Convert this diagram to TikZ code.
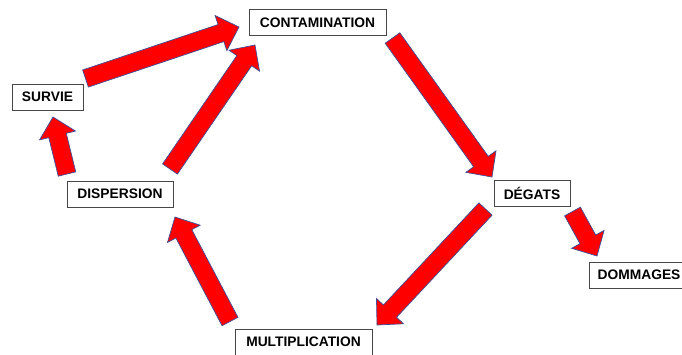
\documentclass[tikz,border=0pt]{standalone}
\usepackage{fontspec}
\setmainfont{Liberation Sans}
\usetikzlibrary{calc}

\definecolor{arrowred}{RGB}{255,0,0}
\definecolor{arrowedge}{RGB}{60,80,150}
\definecolor{boxedge}{RGB}{70,70,70}

% block arrow dimensions
\newcommand{\bashaft}{9pt}
\newcommand{\bawing}{18.5pt}
\newcommand{\bahead}{19pt}

% filled block arrow from tail coordinate #1 to tip coordinate #2
\newcommand{\blockarrow}[2]{%
  \coordinate (ba-h) at ($(#2)!\bahead!(#1)$);
  \draw[blockarrowstyle]
    ($(#1)!\bashaft!90:(#2)$) -- ($(ba-h)!\bashaft!90:(#2)$) --
    ($(ba-h)!\bawing!90:(#2)$) -- (#2) --
    ($(ba-h)!\bawing!-90:(#2)$) -- ($(ba-h)!\bashaft!-90:(#2)$) --
    ($(#1)!\bashaft!-90:(#2)$) -- cycle;
}

\tikzset{
  stage/.style={draw=boxedge, line width=0.9pt, fill=white, minimum height=26pt,
    inner sep=0pt, font=\fontsize{13.8}{16}\selectfont\bfseries},
  blockarrowstyle/.style={fill=arrowred, draw=arrowedge, line width=0.7pt, line join=miter}
}

\begin{document}
\begin{tikzpicture}[x=1pt, y=-1pt]
  \useasboundingbox (0,0) rectangle (682,354);

  % stages of the cycle
  \node[stage, minimum width=137pt] (cont) at (317.5,22.5) {CONTAMINATION};
  \node[stage, minimum width=71pt]  (surv) at (47.5,97)    {SURVIE};
  \node[stage, minimum width=106pt] (disp) at (120,194)    {DISPERSION};
  \node[stage, minimum width=137pt] (mult) at (303.5,342)  {MULTIPLICATION};
  \node[stage, minimum width=76pt]  (deg)  at (532,193.5)  {DÉGATS};
  \node[stage, minimum width=100pt] (dom)  at (639,275)    {DOMMAGES};

  % arrow tails and tips
  \coordinate (survC-s) at (85.5,78.5);  \coordinate (survC-t) at (239,27);
  \coordinate (dispC-s) at (170,169);    \coordinate (dispC-t) at (255,45);
  \coordinate (dispS-s) at (67,174);     \coordinate (dispS-t) at (53,117);
  \coordinate (multD-s) at (230,321.5);  \coordinate (multD-t) at (175,217);
  \coordinate (contD-s) at (392.5,38);   \coordinate (contD-t) at (492,177);
  \coordinate (degM-s)  at (485.5,209);  \coordinate (degM-t)  at (377,325);
  \coordinate (degD-s)  at (572.5,211.5);\coordinate (degD-t)  at (597,256);

  \blockarrow{survC-s}{survC-t}
  \blockarrow{dispC-s}{dispC-t}
  \blockarrow{dispS-s}{dispS-t}
  \blockarrow{multD-s}{multD-t}
  \blockarrow{contD-s}{contD-t}
  \blockarrow{degM-s}{degM-t}
  \blockarrow{degD-s}{degD-t}
\end{tikzpicture}
\end{document}
